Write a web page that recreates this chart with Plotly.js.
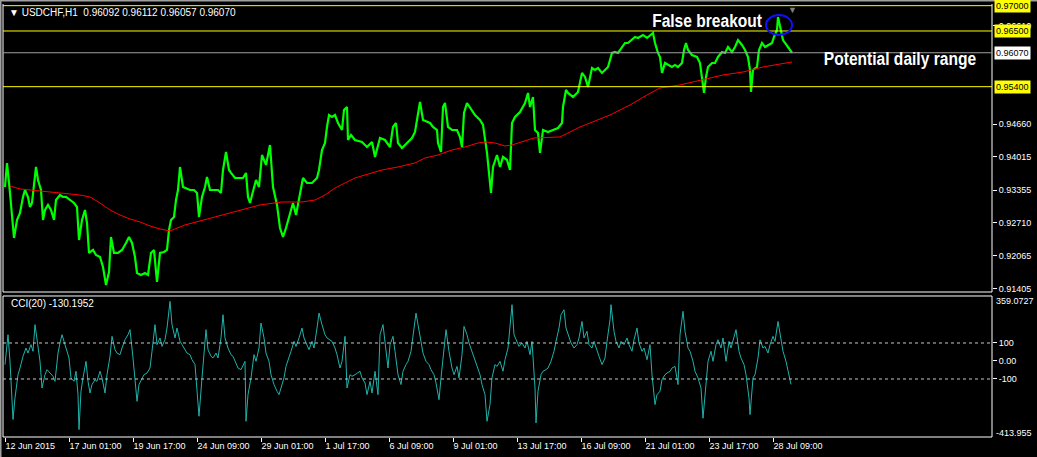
<!DOCTYPE html>
<html><head><meta charset="utf-8">
<script src="https://cdn.plot.ly/plotly-3.0.1.min.js"></script>
<style>html,body{margin:0;padding:0;background:#000;}#chart{width:1037px;height:457px;}</style>
</head><body><div id="chart"></div>
<script>
// ---- data (hour index from first bar) ----
const priceBars = [0,2,5,9,12,15,18,20,23,25,27,31,33,36,38,40,43,46,49,51,55,58,61,65,69,72,74,77,80,82,84,88,91,95,98,101,104,106,109,113,117,121,124,127,130,132,136,140,143,146,149,152,155,159,162,164,166,169,171,173,175,178,181,185,189,192,194,197,200,202,205,209,213,216,218,221,224,226,230,234,238,241,243,245,248,251,254,257,261,265,268,272,275,278,281,285,288,291,294,296,298,302,307,312,314,317,320,322,324,327,330,333,337,339,342,343,346,350,357,362,367,370,375,380,385,388,391,393,397,402,407,410,413,415,418,422,425,428,432,433,436,438,440,443,447,452,455,457,459,462,465,470,475,478,482,484,486,488,492,495,498,502,505,507,510,515,520,523,525,528,530,533,535,538,543,548,553,557,558,561,563,568,573,577,580,583,587,590,593,597,600,603,607,610,613,617,620,623,627,630,633,638,642,645,648,650,653,655,657,660,663,667,670,673,677,679,681,683,687,692,695,697,699,701,703,707,710,713,717,720,723,727,730,733,737,740,743,745,746,748,752,754,757,760,763,767,769,772,773,776,778,780,783,787];
const priceClose = [0.93419,0.93893,0.93301,0.92412,0.92767,0.92906,0.93222,0.93360,0.93222,0.93024,0.93103,0.93814,0.93557,0.93360,0.92767,0.92965,0.93064,0.92965,0.92767,0.93162,0.93261,0.93222,0.93222,0.93162,0.93103,0.93024,0.92372,0.92767,0.92965,0.92708,0.92116,0.92175,0.92076,0.92036,0.91839,0.91484,0.91740,0.92432,0.92116,0.92116,0.92175,0.92313,0.92432,0.92313,0.92036,0.91720,0.91681,0.91720,0.91681,0.92116,0.92175,0.91543,0.92116,0.92135,0.92175,0.92570,0.92767,0.92827,0.93162,0.93360,0.93814,0.93419,0.93399,0.93360,0.93360,0.93301,0.92827,0.93222,0.93419,0.93617,0.93360,0.93360,0.93360,0.93301,0.93755,0.94110,0.93755,0.93696,0.93597,0.93597,0.93597,0.93696,0.93222,0.93103,0.93360,0.93557,0.93419,0.94051,0.93854,0.94249,0.93419,0.93064,0.92609,0.92432,0.92609,0.92906,0.93103,0.92866,0.93162,0.93419,0.93597,0.93498,0.93498,0.93597,0.93755,0.94150,0.94288,0.94604,0.94841,0.94802,0.94841,0.94683,0.94545,0.94940,0.94999,0.94347,0.94446,0.94347,0.94308,0.94209,0.94308,0.94012,0.94387,0.94347,0.94209,0.94604,0.94683,0.94288,0.94189,0.94288,0.94387,0.94505,0.94881,0.95098,0.94742,0.94703,0.94683,0.94604,0.94545,0.94288,0.94110,0.94999,0.95078,0.94604,0.94545,0.94545,0.94407,0.94209,0.94881,0.95078,0.94979,0.94841,0.94742,0.94644,0.94091,0.93696,0.93301,0.93814,0.94051,0.93814,0.94012,0.93952,0.93755,0.94683,0.94802,0.94900,0.95078,0.95276,0.94999,0.95197,0.94545,0.94486,0.94091,0.94545,0.94505,0.94545,0.94584,0.94683,0.94999,0.95335,0.95276,0.95197,0.95295,0.95671,0.95592,0.95394,0.95769,0.95730,0.95769,0.95671,0.95730,0.95789,0.96066,0.96085,0.96066,0.96184,0.96263,0.96263,0.96322,0.96382,0.96362,0.96421,0.96362,0.96421,0.96461,0.96263,0.96066,0.95987,0.95671,0.95868,0.95829,0.95789,0.95829,0.95789,0.95868,0.96125,0.96263,0.96125,0.96026,0.95987,0.95868,0.95592,0.95276,0.95592,0.95789,0.95868,0.95868,0.95987,0.96085,0.96066,0.96184,0.96085,0.96184,0.96322,0.96224,0.96125,0.95987,0.95730,0.95295,0.95730,0.95789,0.96125,0.96263,0.96184,0.96224,0.96263,0.96382,0.96520,0.96777,0.96461,0.96322,0.96263,0.96184,0.96070];

const maBars = [5,15,25,35,55,75,85,95,105,115,125,135,145,155,165,170,180,195,210,225,240,255,277,297,310,320,330,340,350,360,377,393,410,420,433,447,460,473,480,490,500,507,517,529,555,575,605,625,642,655,675,698,718,738,758,787];
const maValues = [0.93439,0.93380,0.93360,0.93340,0.93301,0.93261,0.93222,0.93103,0.92965,0.92866,0.92787,0.92728,0.92649,0.92590,0.92550,0.92590,0.92669,0.92748,0.92827,0.92906,0.92985,0.93064,0.93123,0.93123,0.93162,0.93261,0.93399,0.93498,0.93597,0.93656,0.93755,0.93814,0.93893,0.93992,0.94051,0.94150,0.94209,0.94288,0.94308,0.94288,0.94229,0.94249,0.94308,0.94387,0.94407,0.94604,0.94841,0.95039,0.95236,0.95374,0.95434,0.95532,0.95631,0.95690,0.95789,0.95888];

const cciBars = [0,3,5,8,10,13,15,18,21,23,26,28,30,32,35,37,40,42,45,48,50,53,55,57,59,61,64,66,69,71,73,74,76,78,81,83,85,87,90,92,95,97,100,102,105,107,110,112,115,117,120,123,125,128,130,132,134,137,139,142,145,147,150,152,155,157,160,162,165,167,170,172,175,177,180,182,185,187,190,192,194,197,199,201,203,206,208,211,213,216,218,220,223,226,228,231,233,236,238,240,241,243,246,249,251,254,256,259,261,264,266,269,272,274,276,279,281,284,286,289,291,294,297,299,302,304,307,309,312,314,317,320,322,325,327,330,332,335,337,340,342,345,347,350,352,355,357,360,362,365,367,370,373,375,378,380,383,385,388,390,393,396,398,401,403,406,408,411,413,416,418,421,424,426,429,431,434,436,439,441,444,447,449,452,454,457,459,462,464,467,470,472,475,477,480,482,485,487,490,492,495,498,500,503,505,507,509,512,514,517,520,522,525,527,530,531,533,536,538,541,543,546,549,551,554,556,559,561,564,566,569,572,574,577,579,582,584,587,589,592,594,597,600,602,605,606,609,611,614,616,619,622,624,627,629,632,634,637,639,642,645,647,650,652,655,657,660,662,665,667,670,673,675,678,680,683,685,688,690,693,696,698,701,703,706,708,711,713,716,718,721,724,726,729,731,734,736,739,741,744,745,748,750,753,755,758,760,763,765,768,770,773,776,778,781,783,786];
const cciValues = [-20,146,-2,-325,-205,-76,-39,26,72,44,91,54,202,128,-2,-150,-76,-48,-67,-85,-113,44,100,146,109,72,17,-94,-113,-57,-187,-381,-168,-94,-2,-113,-178,-131,-104,-113,-57,-94,-178,-76,26,137,63,44,35,72,118,146,174,17,-94,-224,-131,-94,-76,-67,-39,54,202,91,128,81,118,183,331,202,128,183,109,91,63,44,35,7,-20,-168,-307,-94,54,174,63,26,17,44,17,128,257,128,72,35,26,-20,-39,-48,-20,-2,-335,-187,-94,35,-2,72,211,128,44,-2,-76,-131,-168,-187,-150,-94,-30,17,54,109,81,128,183,128,91,63,109,72,183,266,202,146,128,118,109,72,35,-39,-2,137,-150,-76,-85,-76,-67,-57,-94,-122,-187,-113,-178,-57,-187,146,202,109,-39,91,137,54,-76,-131,-57,-20,-2,54,146,266,202,109,44,-2,-20,-48,-76,-122,-215,-94,91,174,54,-39,-76,-30,-94,35,192,146,100,54,7,-20,-76,-131,-187,-335,-242,-94,-20,-30,-2,-57,7,72,202,313,146,109,81,100,72,109,35,109,-150,-344,-168,-76,-57,-48,-39,-2,54,109,183,257,285,183,128,100,72,91,128,220,128,165,91,72,109,54,26,-20,17,109,229,313,165,109,72,109,91,128,91,54,118,183,100,54,72,7,91,-76,-242,-187,-168,-104,-76,-67,-57,-39,-30,-131,146,276,165,72,54,-2,-57,-94,-150,-318,-113,-2,54,-2,91,118,72,128,-2,109,72,128,174,54,17,-20,-76,-205,-298,-94,-76,17,118,72,81,44,91,137,109,220,128,54,-2,-57,-130];

const dateTickBars = [0,64,128,192,256,320,384,448,512,576,640,704,768];
const dateTickText = ["12 Jun 2015","17 Jun 01:00","19 Jun 17:00","24 Jun 09:00","29 Jun 01:00","1 Jul 17:00","6 Jul 09:00","9 Jul 01:00","13 Jul 17:00","16 Jul 09:00","21 Jul 01:00","23 Jul 17:00","28 Jul 09:00"];
const priceTicks = [0.96610,0.94660,0.94015,0.93355,0.92710,0.92065,0.91405];
const priceTickText = ["0.96610","0.94660","0.94015","0.93355","0.92710","0.92065","0.91405"];
const cciTicks = [100,0,-100];
const cciTickText = ["100","0.00","-100"];
const cciScaleMax = 359.0727, cciScaleMin = -413.955;
const markedLevels = [0.97000,0.96500,0.95400];
const currentPrice = 0.96070;
const cciLevels = [100,-100];
const header = "\u25BC USDCHF,H1\u00a0 0.96092 0.96112 0.96057 0.96070";
const cciLabel = "CCI(20) -130.1952";

// ---- layout geometry ----
const FONT = "Liberation Sans, Arial, sans-serif";
const mainBottom = 0.33487, cciTop = 0.32564;

const traces = [
  {x: priceBars, y: priceClose, type:'scatter', mode:'lines', line:{color:'#00ff00', width:2.2}, xaxis:'x', yaxis:'y', hoverinfo:'skip'},
  {x: maBars, y: maValues, type:'scatter', mode:'lines', line:{color:'#ff0000', width:1}, xaxis:'x', yaxis:'y', hoverinfo:'skip'},
  {x: cciBars, y: cciValues, type:'scatter', mode:'lines', line:{color:'#20b2aa', width:1}, xaxis:'x', yaxis:'y2', hoverinfo:'skip'}
];

const shapes = [];
const W = {color:'#ffffff', width:1};
shapes.push({type:'line', xref:'paper', yref:'paper', x0:0, x1:0, y0:mainBottom, y1:1, line:W});
shapes.push({type:'line', xref:'paper', yref:'paper', x0:1, x1:1, y0:mainBottom, y1:1, line:W});
shapes.push({type:'line', xref:'paper', yref:'paper', x0:0, x1:1, y0:mainBottom, y1:mainBottom, line:W});
shapes.push({type:'rect', xref:'paper', yref:'paper', x0:0, x1:1, y0:0, y1:cciTop, line:W});
shapes.push({type:'line', xref:'paper', yref:'paper', x0:-0.01, x1:1.05, y0:1.0081, y1:1.0081, line:{color:'#a0a0a0', width:2}});
shapes.push({type:'line', xref:'paper', yref:'paper', x0:-0.0025, x1:-0.0025, y0:-0.05, y1:1.01, line:{color:'#a0a0a0', width:2}});
markedLevels.forEach(v => shapes.push({type:'line', xref:'paper', yref:'y', x0:0, x1:1, y0:v, y1:v, line:{color:'#ffff00', width:1}}));
shapes.push({type:'line', xref:'paper', yref:'y', x0:0, x1:1, y0:currentPrice, y1:currentPrice, line:{color:'#a0a0a0', width:1}});
cciLevels.forEach(v => shapes.push({type:'line', xref:'paper', yref:'y2', x0:0, x1:1, y0:v, y1:v, line:{color:'#c8c8c8', width:1, dash:'3px,3px'}}));
shapes.push({type:'circle', xref:'x', yref:'y', x0:761, x1:787, y0:0.96421, y1:0.96816, line:{color:'#1010ff', width:2}});

const annotations = [];
annotations.push({xref:'paper', yref:'paper', x:0, y:1, xanchor:'left', yanchor:'middle', xshift:4, yshift:-8, showarrow:false, text:header, font:{family:FONT, size:10, color:'#ffffff'}});
annotations.push({xref:'paper', yref:'paper', x:0, y:cciTop, xanchor:'left', yanchor:'middle', xshift:6, yshift:-8, showarrow:false, text:cciLabel, font:{family:FONT, size:10, color:'#ffffff'}});
annotations.push({xref:'x', yref:'y', x:702, y:0.96717, xanchor:'center', yanchor:'middle', showarrow:false, text:'<b>False breakout</b>', font:{family:FONT, size:19, color:'#ffffff'}});
annotations.push({xref:'x', yref:'y', x:895, y:0.95947, xanchor:'center', yanchor:'middle', showarrow:false, text:'<b>Potential daily range</b>', font:{family:FONT, size:19, color:'#ffffff'}});
markedLevels.forEach(v => annotations.push({xref:'paper', yref:'y', x:1, y:v, xanchor:'left', yanchor:'middle', xshift:2, showarrow:false, text:v.toFixed(5), bgcolor:'#ffff00', borderpad:1, font:{family:FONT, size:9, color:'#000000'}}));
annotations.push({xref:'paper', yref:'y', x:1, y:currentPrice, xanchor:'left', yanchor:'middle', xshift:2, showarrow:false, text:currentPrice.toFixed(5), bgcolor:'#ffffff', borderpad:1, font:{family:FONT, size:9, color:'#000000'}});
annotations.push({xref:'x', yref:'paper', x:787, y:1, xanchor:'center', yanchor:'top', yshift:1, showarrow:false, text:'\u25BC', font:{family:FONT, size:9, color:'#808080'}});
annotations.push({xref:'paper', yref:'y2', x:1, y:cciScaleMax, xanchor:'left', yanchor:'middle', xshift:2, yshift:-5, showarrow:false, text:cciScaleMax.toFixed(4), font:{family:FONT, size:9, color:'#ffffff'}});
annotations.push({xref:'paper', yref:'y2', x:1, y:cciScaleMin, xanchor:'left', yanchor:'middle', xshift:2, yshift:3, showarrow:false, text:cciScaleMin.toFixed(3), font:{family:FONT, size:9, color:'#ffffff'}});

const axFont = {family:FONT, size:9, color:'#ffffff'};
const layout = {
  width:1037, height:457,
  paper_bgcolor:'#000000', plot_bgcolor:'#000000',
  margin:{l:3, r:45, t:4, b:20},
  showlegend:false,
  xaxis:{range:[-2,987], anchor:'y2', tickmode:'array', tickvals:dateTickBars, ticktext:dateTickText,
         ticks:'outside', ticklen:4, tickcolor:'#ffffff', tickfont:axFont, ticklabelposition:'outside right',
         showgrid:false, zeroline:false, showline:false, fixedrange:true},
  yaxis:{domain:[mainBottom,1], range:[0.91345,0.97033], side:'right', anchor:'x', tickmode:'array',
         tickvals:priceTicks, ticktext:priceTickText, ticks:'outside', ticklen:4, tickcolor:'#ffffff',
         tickfont:axFont, showgrid:false, zeroline:false, showline:false},
  yaxis2:{domain:[0,cciTop], range:[-422.2,361.1], side:'right', anchor:'x', tickmode:'array',
         tickvals:cciTicks, ticktext:cciTickText, ticks:'outside', ticklen:4, tickcolor:'#ffffff',
         tickfont:axFont, showgrid:false, zeroline:false, showline:false},
  shapes:shapes, annotations:annotations
};
Plotly.newPlot('chart', traces, layout, {staticPlot:true, displayModeBar:false}).then(gd => {
  // narrow the bold call-out texts, like the condensed face of the original
  gd.querySelectorAll('text.annotation-text').forEach(t => {
    if (/False breakout|Potential daily range/.test(t.textContent)) {
      t.style.transformBox = 'fill-box';
      t.style.transformOrigin = 'center';
      t.style.transform = 'scaleX(0.82)';
    }
  });
});
</script></body></html>
